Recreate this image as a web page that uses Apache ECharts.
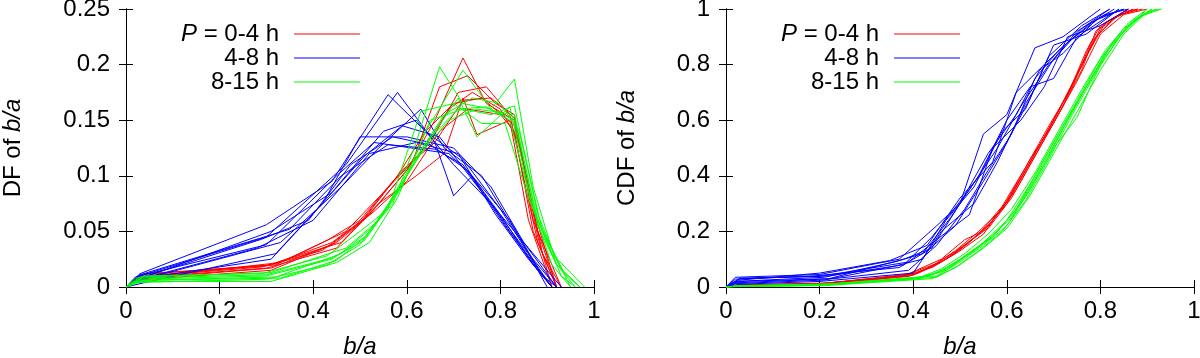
<!DOCTYPE html>
<html>
<head>
<meta charset="utf-8">
<script src="https://cdn.jsdelivr.net/npm/echarts@6/dist/echarts.min.js"></script>
<style>
  html, body { margin: 0; padding: 0; background: #fff; }
  #chart { width: 1200px; height: 358px; }
</style>
</head>
<body>
<div id="chart"></div>
<script>
// etiquetas y ticks
var periodNames = ['P = 0-4 h', '4-8 h', '8-15 h'];
var xTicks = [0, 0.2, 0.4, 0.6, 0.8, 1];
var dfTicks = [0, 0.05, 0.1, 0.15, 0.2, 0.25];
var cdfTicks = [0, 0.2, 0.4, 0.6, 0.8, 1];

// DF de b/a, curvas P = 0-4 h
var dfRed = [
    [[0,0],[0.03,0.011],[0.31,0.02],[0.44,0.04],[0.52,0.065],[0.60,0.105],[0.66,0.15],[0.72,0.206],[0.77,0.165],[0.83,0.15],[0.88,0.05],[0.92,0]],
    [[0,0],[0.02,0.008],[0.30,0.017],[0.45,0.035],[0.53,0.07],[0.61,0.11],[0.67,0.18],[0.73,0.19],[0.79,0.165],[0.83,0.155],[0.87,0.06],[0.93,0]],
    [[0,0],[0.04,0.01],[0.32,0.02],[0.43,0.042],[0.50,0.06],[0.57,0.095],[0.65,0.13],[0.71,0.175],[0.77,0.18],[0.82,0.155],[0.88,0.04],[0.92,0]],
    [[0,0],[0.03,0.009],[0.29,0.018],[0.46,0.04],[0.54,0.075],[0.62,0.1],[0.68,0.12],[0.72,0.17],[0.75,0.137],[0.82,0.15],[0.86,0.06],[0.91,0]],
    [[0,0],[0.02,0.006],[0.31,0.015],[0.44,0.038],[0.51,0.062],[0.58,0.1],[0.64,0.14],[0.70,0.165],[0.76,0.17],[0.83,0.145],[0.87,0.07],[0.92,0]],
    [[0,0],[0.03,0.008],[0.33,0.022],[0.47,0.05],[0.55,0.085],[0.63,0.12],[0.69,0.16],[0.74,0.175],[0.80,0.16],[0.84,0.13],[0.89,0.03],[0.93,0]],
    [[0,0],[0.04,0.012],[0.30,0.019],[0.42,0.033],[0.50,0.058],[0.59,0.105],[0.66,0.13],[0.72,0.168],[0.78,0.17],[0.83,0.152],[0.88,0.045],[0.91,0]],
    [[0,0],[0.02,0.007],[0.31,0.017],[0.45,0.04],[0.53,0.068],[0.60,0.095],[0.67,0.14],[0.73,0.16],[0.80,0.155],[0.83,0.14],[0.87,0.05],[0.92,0]]
];

// DF, curvas 4-8 h
var dfBlue = [
    [[0,0],[0.03,0.012],[0.30,0.056],[0.44,0.095],[0.56,0.173],[0.64,0.14],[0.72,0.115],[0.80,0.07],[0.86,0.03],[0.91,0]],
    [[0,0],[0.04,0.008],[0.31,0.025],[0.42,0.075],[0.50,0.135],[0.60,0.135],[0.70,0.125],[0.78,0.09],[0.85,0.04],[0.92,0]],
    [[0,0],[0.03,0.01],[0.30,0.045],[0.47,0.11],[0.58,0.175],[0.66,0.13],[0.70,0.082],[0.74,0.1],[0.82,0.05],[0.91,0]],
    [[0,0],[0.02,0.005],[0.33,0.04],[0.46,0.09],[0.54,0.125],[0.63,0.16],[0.68,0.125],[0.76,0.1],[0.84,0.045],[0.90,0]],
    [[0,0],[0.03,0.007],[0.28,0.035],[0.40,0.06],[0.52,0.12],[0.62,0.13],[0.71,0.12],[0.79,0.065],[0.86,0.025],[0.91,0]],
    [[0,0],[0.02,0.009],[0.30,0.038],[0.45,0.1],[0.53,0.13],[0.61,0.125],[0.69,0.12],[0.75,0.095],[0.82,0.06],[0.89,0.01],[0.92,0]],
    [[0,0],[0.04,0.004],[0.32,0.03],[0.43,0.08],[0.51,0.118],[0.59,0.145],[0.67,0.135],[0.77,0.08],[0.83,0.05],[0.93,0]],
    [[0,0],[0.03,0.008],[0.29,0.043],[0.39,0.06],[0.48,0.11],[0.57,0.135],[0.65,0.128],[0.73,0.105],[0.80,0.065],[0.87,0.02],[0.91,0]],
    [[0,0],[0.02,0.006],[0.31,0.05],[0.44,0.085],[0.55,0.14],[0.62,0.15],[0.70,0.11],[0.78,0.075],[0.85,0.035],[0.92,0]],
    [[0,0],[0.03,0.011],[0.35,0.052],[0.46,0.1],[0.56,0.128],[0.66,0.124],[0.72,0.11],[0.81,0.055],[0.88,0.015],[0.91,0]]
];

// DF, curvas 8-15 h
var dfGreen = [
    [[0,0],[0.03,0.007],[0.30,0.01],[0.44,0.025],[0.51,0.045],[0.57,0.075],[0.62,0.13],[0.67,0.198],[0.72,0.165],[0.78,0.16],[0.83,0.15],[0.88,0.06],[0.93,0.01],[0.96,0]],
    [[0,0],[0.02,0.005],[0.31,0.005],[0.45,0.022],[0.52,0.04],[0.58,0.08],[0.64,0.14],[0.72,0.195],[0.78,0.16],[0.83,0.187],[0.87,0.09],[0.92,0.02],[0.97,0]],
    [[0,0],[0.04,0.01],[0.29,0.012],[0.43,0.028],[0.50,0.05],[0.56,0.07],[0.63,0.158],[0.70,0.165],[0.76,0.147],[0.81,0.147],[0.86,0.08],[0.91,0.03],[0.98,0]],
    [[0,0],[0.03,0.006],[0.32,0.009],[0.46,0.03],[0.53,0.055],[0.60,0.1],[0.66,0.14],[0.71,0.17],[0.75,0.135],[0.82,0.162],[0.87,0.07],[0.92,0.025],[0.95,0]],
    [[0,0],[0.02,0.008],[0.30,0.011],[0.44,0.026],[0.51,0.042],[0.59,0.09],[0.65,0.15],[0.72,0.16],[0.78,0.155],[0.83,0.163],[0.88,0.065],[0.93,0.015],[0.97,0]],
    [[0,0],[0.03,0.009],[0.31,0.013],[0.47,0.035],[0.54,0.06],[0.61,0.11],[0.68,0.155],[0.74,0.17],[0.80,0.165],[0.84,0.14],[0.89,0.05],[0.94,0.01],[0.96,0]],
    [[0,0],[0.04,0.006],[0.33,0.008],[0.45,0.024],[0.52,0.048],[0.58,0.085],[0.64,0.13],[0.71,0.16],[0.77,0.162],[0.82,0.15],[0.87,0.07],[0.91,0.02],[0.95,0]],
    [[0,0],[0.02,0.004],[0.30,0.007],[0.43,0.02],[0.50,0.038],[0.57,0.08],[0.63,0.12],[0.69,0.15],[0.75,0.16],[0.83,0.155],[0.88,0.055],[0.92,0.02],[0.97,0]]
];

// CDF de b/a, curvas P = 0-4 h
var cdfRed = [
    [[0,0],[0.03,0.006],[0.2,0.012],[0.38,0.04],[0.45,0.085],[0.5,0.14],[0.55,0.2],[0.6,0.3],[0.65,0.45],[0.7,0.6],[0.75,0.76],[0.8,0.93],[0.85,0.99],[0.88,1]],
    [[0,0],[0.02,0.004],[0.22,0.01],[0.4,0.045],[0.46,0.09],[0.51,0.15],[0.56,0.22],[0.61,0.33],[0.66,0.48],[0.71,0.63],[0.76,0.8],[0.81,0.95],[0.87,1]],
    [[0,0],[0.03,0.008],[0.21,0.014],[0.39,0.038],[0.44,0.075],[0.49,0.13],[0.54,0.2],[0.59,0.28],[0.64,0.42],[0.69,0.57],[0.74,0.73],[0.79,0.9],[0.84,0.98],[0.89,1]],
    [[0,0],[0.02,0.005],[0.2,0.011],[0.41,0.05],[0.47,0.1],[0.52,0.16],[0.57,0.24],[0.62,0.35],[0.67,0.5],[0.72,0.65],[0.77,0.85],[0.8,0.94],[0.86,1]],
    [[0,0],[0.03,0.003],[0.23,0.009],[0.4,0.042],[0.45,0.08],[0.5,0.13],[0.55,0.19],[0.6,0.31],[0.65,0.46],[0.7,0.59],[0.75,0.74],[0.8,0.91],[0.85,0.98],[0.9,1]],
    [[0,0],[0.02,0.007],[0.21,0.013],[0.38,0.04],[0.46,0.1],[0.51,0.17],[0.56,0.21],[0.61,0.32],[0.66,0.47],[0.71,0.62],[0.76,0.78],[0.79,0.92],[0.82,0.96],[0.87,1]],
    [[0,0],[0.03,0.005],[0.2,0.01],[0.39,0.044],[0.44,0.07],[0.49,0.12],[0.54,0.19],[0.59,0.29],[0.64,0.43],[0.69,0.58],[0.74,0.72],[0.78,0.88],[0.83,0.97],[0.88,1]]
];

// CDF, curvas 4-8 h
var cdfBlue = [
    [[0,0],[0.02,0.035],[0.2,0.045],[0.37,0.1],[0.45,0.22],[0.5,0.3],[0.55,0.55],[0.6,0.62],[0.66,0.86],[0.72,0.9],[0.8,1]],
    [[0,0],[0.03,0.03],[0.22,0.04],[0.38,0.08],[0.44,0.18],[0.52,0.35],[0.58,0.5],[0.63,0.65],[0.69,0.8],[0.76,0.93],[0.82,1]],
    [[0,0],[0.02,0.02],[0.21,0.035],[0.36,0.09],[0.42,0.12],[0.48,0.25],[0.54,0.4],[0.6,0.6],[0.65,0.72],[0.7,0.75],[0.75,0.9],[0.84,1]],
    [[0,0],[0.03,0.025],[0.2,0.05],[0.35,0.095],[0.43,0.15],[0.5,0.32],[0.57,0.45],[0.62,0.7],[0.68,0.8],[0.73,0.88],[0.8,0.97],[0.85,1]],
    [[0,0],[0.02,0.015],[0.23,0.03],[0.39,0.06],[0.45,0.15],[0.51,0.28],[0.56,0.42],[0.61,0.55],[0.66,0.75],[0.71,0.85],[0.78,0.95],[0.83,1]],
    [[0,0],[0.03,0.01],[0.2,0.02],[0.4,0.05],[0.46,0.2],[0.53,0.3],[0.58,0.45],[0.64,0.66],[0.7,0.82],[0.75,0.92],[0.81,0.98],[0.86,1]],
    [[0,0],[0.02,0.028],[0.19,0.04],[0.37,0.07],[0.43,0.13],[0.49,0.22],[0.55,0.38],[0.6,0.52],[0.65,0.68],[0.7,0.87],[0.77,0.91],[0.84,1]],
    [[0,0],[0.03,0.02],[0.22,0.03],[0.38,0.1],[0.44,0.14],[0.5,0.3],[0.56,0.48],[0.62,0.62],[0.67,0.78],[0.72,0.84],[0.79,0.96],[0.85,1]],
    [[0,0],[0.02,0.012],[0.21,0.025],[0.36,0.075],[0.42,0.1],[0.47,0.24],[0.53,0.36],[0.59,0.56],[0.64,0.64],[0.69,0.83],[0.76,0.94],[0.82,1]],
    [[0,0],[0.03,0.032],[0.2,0.038],[0.39,0.09],[0.45,0.17],[0.52,0.26],[0.57,0.5],[0.63,0.6],[0.68,0.72],[0.73,0.9],[0.8,0.94],[0.86,1]]
];

// CDF, curvas 8-15 h
var cdfGreen = [
    [[0,0],[0.03,0.003],[0.2,0.008],[0.4,0.03],[0.45,0.05],[0.5,0.1],[0.55,0.16],[0.6,0.24],[0.65,0.37],[0.7,0.52],[0.75,0.67],[0.8,0.82],[0.85,0.93],[0.91,1]],
    [[0,0],[0.02,0.002],[0.21,0.006],[0.42,0.035],[0.47,0.06],[0.52,0.12],[0.57,0.18],[0.62,0.28],[0.67,0.43],[0.72,0.58],[0.77,0.72],[0.82,0.86],[0.87,0.96],[0.92,1]],
    [[0,0],[0.03,0.004],[0.22,0.01],[0.45,0.04],[0.5,0.09],[0.55,0.15],[0.6,0.22],[0.65,0.35],[0.7,0.5],[0.75,0.61],[0.8,0.8],[0.85,0.92],[0.9,1]],
    [[0,0],[0.02,0.003],[0.2,0.007],[0.41,0.032],[0.46,0.065],[0.51,0.12],[0.56,0.19],[0.61,0.28],[0.66,0.41],[0.71,0.56],[0.76,0.71],[0.81,0.85],[0.86,0.95],[0.9,1]],
    [[0,0],[0.03,0.002],[0.21,0.005],[0.44,0.03],[0.49,0.07],[0.54,0.13],[0.59,0.2],[0.64,0.31],[0.69,0.46],[0.74,0.62],[0.79,0.77],[0.84,0.9],[0.89,0.98],[0.92,1]],
    [[0,0],[0.02,0.004],[0.2,0.009],[0.4,0.028],[0.46,0.055],[0.51,0.11],[0.56,0.17],[0.61,0.25],[0.66,0.39],[0.71,0.54],[0.76,0.69],[0.81,0.84],[0.86,0.94],[0.91,1]],
    [[0,0],[0.03,0.005],[0.22,0.011],[0.43,0.038],[0.48,0.075],[0.53,0.13],[0.58,0.2],[0.63,0.3],[0.68,0.44],[0.73,0.6],[0.78,0.75],[0.83,0.89],[0.88,0.97],[0.93,1]],
    [[0,0],[0.02,0.002],[0.2,0.006],[0.45,0.035],[0.5,0.08],[0.55,0.14],[0.6,0.21],[0.65,0.33],[0.7,0.48],[0.75,0.63],[0.8,0.78],[0.85,0.91],[0.9,0.99],[0.93,1]]
];

var colores = ['#ff0000', '#0000ff', '#00ff00'];
var fuente = '"Liberation Sans", Arial, sans-serif';
var tam = 24;

var chart = echarts.init(document.getElementById('chart'), null, { renderer: 'canvas' });

function ejeX(grid, pos, ticks, nombre) {
    return {
        type: 'value', gridIndex: grid, position: pos,
        min: ticks[0], max: ticks[ticks.length - 1],
        interval: ticks[1] - ticks[0],
        name: nombre, nameLocation: 'middle', nameGap: 48,
        nameTextStyle: { fontSize: tam, color: '#000', fontFamily: fuente, fontStyle: 'italic' },
        axisLine: { show: true, lineStyle: { color: '#000', width: 1 } },
        axisTick: { show: true, inside: true, length: 7, lineStyle: { color: '#000' } },
        axisLabel: { show: pos === 'bottom', margin: 12, fontSize: tam, color: '#000', fontFamily: fuente },
        splitLine: { show: false }
    };
}

function ejeY(grid, pos, ticks, nombre, gap) {
    return {
        type: 'value', gridIndex: grid, position: pos,
        min: ticks[0], max: ticks[ticks.length - 1],
        interval: ticks[1] - ticks[0],
        name: nombre, nameLocation: 'middle', nameGap: gap, nameRotate: 90,
        nameTextStyle: {
            fontSize: tam, color: '#000', fontFamily: fuente,
            rich: { i: { fontSize: tam, color: '#000', fontFamily: fuente, fontStyle: 'italic' } }
        },
        axisLine: { show: true, lineStyle: { color: '#000', width: 1 } },
        axisTick: { show: true, inside: true, length: 7, lineStyle: { color: '#000' } },
        axisLabel: { show: pos === 'left', margin: 16, fontSize: tam, color: '#000', fontFamily: fuente },
        splitLine: { show: false }
    };
}

function leyenda(left) {
    return {
        left: left, top: 17, orient: 'vertical', align: 'right',
        icon: 'rect', itemWidth: 66, itemHeight: 1, itemGap: 0,
        selectedMode: false,
        data: periodNames,
        formatter: function(name) {
            return name.indexOf('P ') === 0 ? '{i|P}' + name.substring(1) : name;
        },
        textStyle: {
            fontSize: tam, color: '#000', fontFamily: fuente, padding: [0, 10, 0, 0],
            rich: { i: { fontSize: tam, color: '#000', fontFamily: fuente, fontStyle: 'italic' } }
        }
    };
}

var series = [];
function agregar(curvas, idx, eje) {
    curvas.forEach(function(c) {
        series.push({
            name: periodNames[idx], type: 'line',
            xAxisIndex: eje, yAxisIndex: eje,
            data: c, symbol: 'none', silent: true,
            lineStyle: { width: 1, color: colores[idx] },
            itemStyle: { color: colores[idx] }
        });
    });
}
agregar(dfRed, 0, 0);
agregar(dfBlue, 1, 0);
agregar(dfGreen, 2, 0);
agregar(cdfRed, 0, 2);
agregar(cdfBlue, 1, 2);
agregar(cdfGreen, 2, 2);

chart.setOption({
    animation: false,
    backgroundColor: '#fff',
    grid: [
        { left: 126, top: 9, width: 468, height: 278, outerBoundsMode: 'none' },
        { left: 726, top: 9, width: 468, height: 278, outerBoundsMode: 'none' }
    ],
    legend: [leyenda(176), leyenda(776)],
    xAxis: [
        ejeX(0, 'bottom', xTicks, 'b/a'),
        ejeX(0, 'top', xTicks, ''),
        ejeX(1, 'bottom', xTicks, 'b/a'),
        ejeX(1, 'top', xTicks, '')
    ],
    yAxis: [
        ejeY(0, 'left', dfTicks, 'DF of {i|b/a}', 101),
        ejeY(0, 'right', dfTicks, '', 0),
        ejeY(1, 'left', cdfTicks, 'CDF of {i|b/a}', 87),
        ejeY(1, 'right', cdfTicks, '', 0)
    ],
    series: series
});
</script>
</body>
</html>
